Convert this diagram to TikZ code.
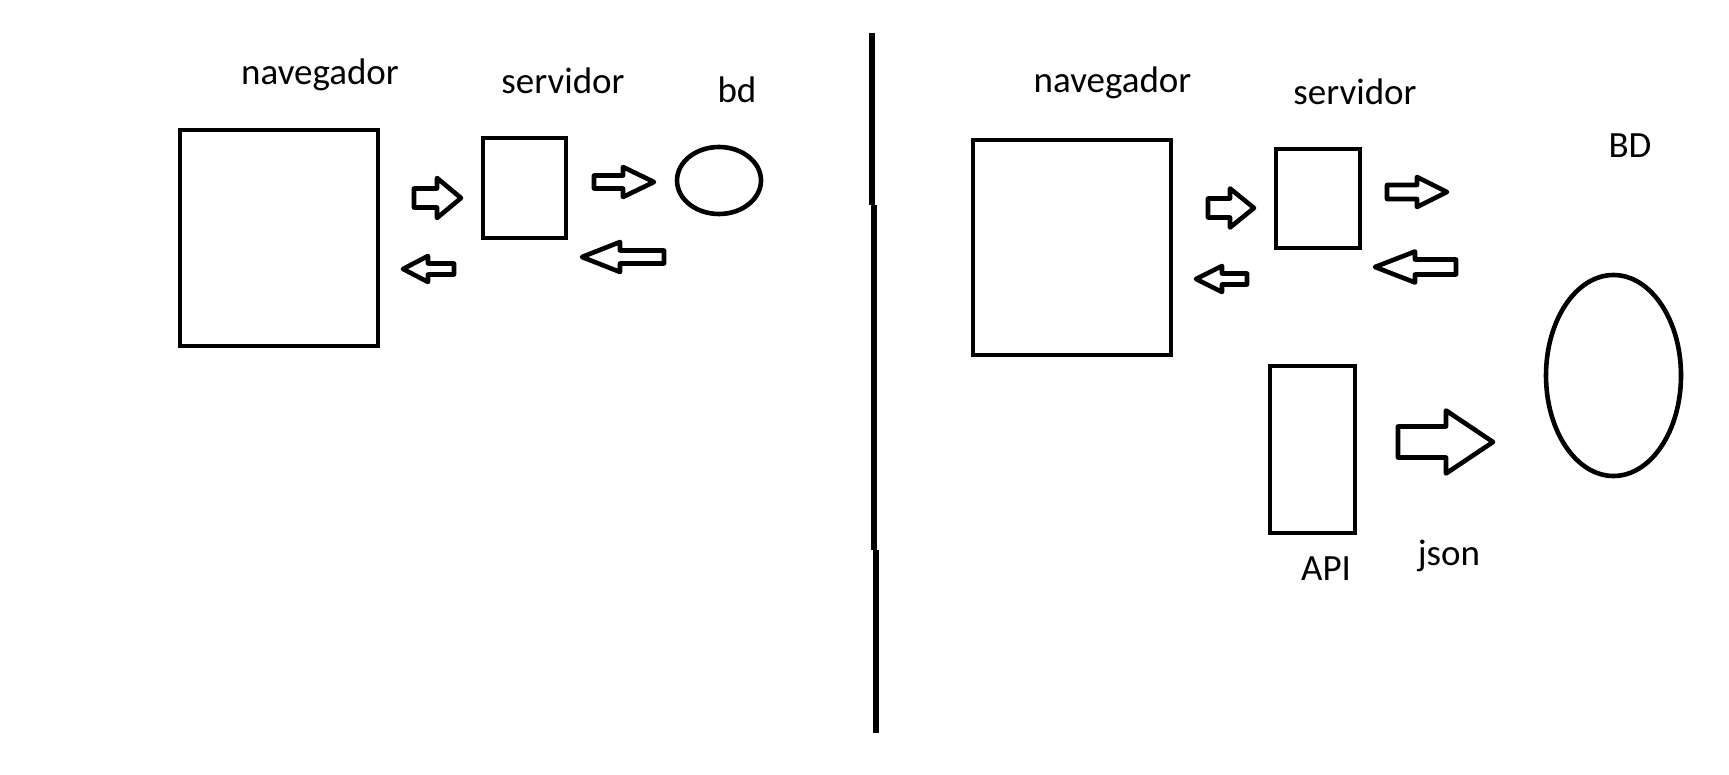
\documentclass[tikz,border=0pt]{standalone}
\usepackage{fontspec}
\setmainfont{Carlito}
\usetikzlibrary{shapes.geometric}
\newcommand\blockarr[6]{%
  \draw[barrow] (#1,#4-#5) -- (#2,#4-#5) -- (#2,#4-#6) -- (#3,#4) -- (#2,#4+#6) -- (#2,#4+#5) -- (#1,#4+#5) -- cycle;}
\begin{document}
\begin{tikzpicture}[x=0.5pt,y=-0.5pt,
  box/.style={draw=black, line width=2.3pt, rectangle, inner sep=0pt},
  oval/.style={draw=black, line width=2.3pt, ellipse, inner sep=0pt},
  lbl/.style={anchor=base, inner sep=0pt, font=\fontsize{18.5}{22}\selectfont},
  barrow/.style={draw=black, line width=2.3pt, line join=round, fill=white},
  divider/.style={draw=black, line width=3pt}]
\useasboundingbox[fill=white] (0,0) rectangle (1729,775);

% left diagram
\node[box, minimum width=99pt, minimum height=108pt] (navL) at (279,238) {};
\node[box, minimum width=41.5pt, minimum height=50pt] (servL) at (524.5,188) {};
\node[oval, minimum width=42pt, minimum height=33.5pt] (bdL) at (719,180.5) {};
\node[lbl] (tnavL) at (320,85) {navegador};
\node[lbl] (tservL) at (563,94) {servidor};
\node[lbl] (tbdL) at (737,103) {bd};
\blockarr{414}{437}{461}{198}{9.5}{20}
\blockarr{454}{428}{403}{269}{5.5}{13}
\blockarr{594}{623}{654}{182}{6.5}{15}
\blockarr{664}{620}{582}{257}{6.5}{15}

% divider
\coordinate (d0) at (872,33);
\coordinate (d1) at (872,205);
\coordinate (d2) at (874,205);
\coordinate (d3) at (874,550);
\coordinate (d4) at (875.5,550);
\coordinate (d5) at (875.5,733);
\draw[divider] (d0) -- (d1);
\draw[divider] (d2) -- (d3);
\draw[divider] (d4) -- (d5);

% right diagram
\node[box, minimum width=99pt, minimum height=107.5pt] (navR) at (1072,247.5) {};
\node[box, minimum width=42pt, minimum height=49.5pt] (servR) at (1318,198.5) {};
\node[box, minimum width=42.5pt, minimum height=83.5pt] (api) at (1312.5,449.5) {};
\node[oval, minimum width=67.5pt, minimum height=100.5pt] (bdR) at (1613.5,375.5) {};
\node[lbl] (tnavR) at (1112.5,93) {navegador};
\node[lbl] (tservR) at (1355,105) {servidor};
\node[lbl] (tbdR) at (1630,158) {BD};
\node[lbl] (tapi) at (1326,580) {API};
\node[lbl] (tjson) at (1449,565) {json};
\blockarr{1208}{1230}{1254}{208}{9.5}{19.5}
\blockarr{1247}{1222}{1196}{279}{5.5}{13}
\blockarr{1387}{1417}{1447}{192}{7}{15}
\blockarr{1456}{1415}{1375}{267}{7.5}{15.5}
\blockarr{1398}{1446}{1493}{442}{15.5}{31.5}
\end{tikzpicture}
\end{document}
